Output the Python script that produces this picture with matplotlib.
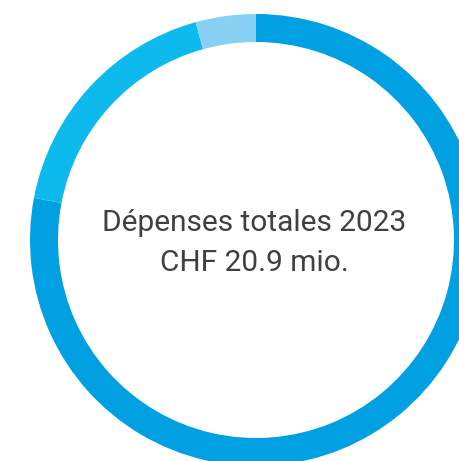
import matplotlib
matplotlib.use("Agg")
import matplotlib.pyplot as plt

# spending 2023, CHF mio (clockwise from 12 o'clock)
values = [16.3, 3.7, 0.9]
colors = ["#00A0E2", "#0DBAED", "#87CFF3"]
title_line = "Dépenses totales 2023"
total_line = "CHF 20.9 mio."

fig = plt.figure(figsize=(4.59, 4.61), dpi=100)
ax = fig.add_axes([0, 0, 1, 1])

# donut centre / size in pixel units of the figure
cx, cy = 256, 461 - 240
radius = 226
ring = 28

ax.pie(values, colors=colors, startangle=90, counterclock=False,
       center=(cx, cy), radius=radius,
       wedgeprops=dict(width=ring, linewidth=0))

ax.set_xlim(0, 459)
ax.set_ylim(0, 461)
ax.set_aspect("equal")
ax.axis("off")

ax.text(254, 461 - 223, title_line, ha="center", va="center",
        fontsize=21.5, color="#404040", family="Roboto", fontweight="normal")
ax.text(254, 461 - 263, total_line, ha="center", va="center",
        fontsize=21.5, color="#404040", family="Roboto", fontweight="normal")

fig.savefig("out.png", dpi=100)
